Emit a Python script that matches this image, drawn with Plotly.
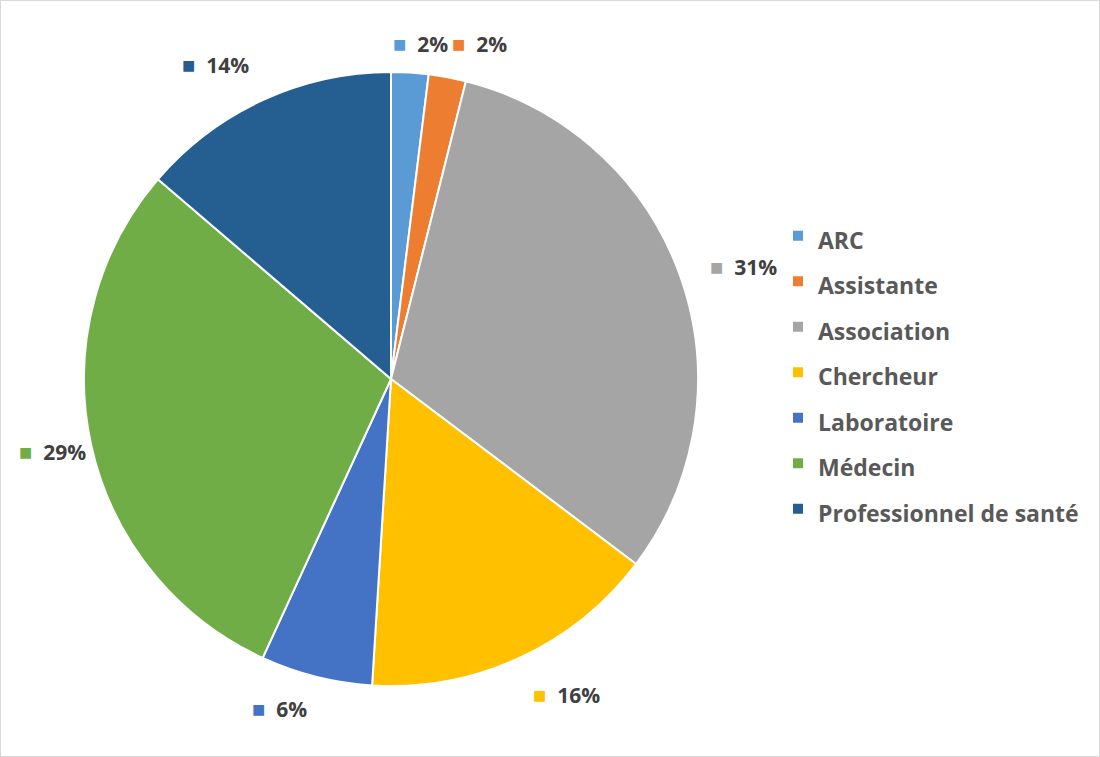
import math
import plotly.graph_objects as go

categories = ["ARC", "Assistante", "Association", "Chercheur", "Laboratoire", "Médecin", "Professionnel de santé"]
counts = [1, 1, 16, 8, 3, 15, 7]
colors = ["#5B9BD5", "#ED7D31", "#A5A5A5", "#FFC000", "#4472C4", "#70AD47", "#255E91"]

W, H = 1100, 757
cx, cy, r = 391, 379, 307
FONT = "Open Sans"

total = sum(counts)
pct = [round(100 * c / total) for c in counts]

fig = go.Figure(go.Pie(
    labels=[f"<span style='font-size:23px'>{c}</span>" for c in categories],
    values=counts,
    marker=dict(colors=colors, line=dict(color="white", width=2)),
    sort=False,
    direction="clockwise",
    rotation=0,
    textinfo="none",
    hoverinfo="label+percent",
    domain=dict(x=[(cx - r) / W, (cx + r) / W], y=[(H - cy - r) / H, (H - cy + r) / H]),
))

# outside-end data labels, positioned from each slice's mid-angle
def clip(v, lo, hi):
    return max(lo, min(hi, v))

annotations = []
cum = 0
gap = 29
for c, p, col in zip(counts, pct, colors):
    mid = (cum + c / 2) / total * 2 * math.pi
    cum += c
    sx, sy = math.sin(mid), -math.cos(mid)
    nd = len(str(p))
    w = 28 + 12 * nd + 18.5
    h = 20
    px, py = cx + (r + gap) * sx, cy + (r + gap) * sy
    fx = clip(abs(sx) / 0.2, 0, 1) * (1 if sx >= 0 else -1)
    fy = clip((abs(sy) - 0.3) / 0.2, 0, 1) * (1 if sy >= 0 else -1)
    bx = px + fx * w / 2
    by = py + fy * h / 2
    bx = clip(bx, 17 + w / 2, W - 17 - w / 2)
    by = clip(by, 33 + h / 2, H - 39 - h / 2)
    annotations.append(dict(
        x=bx / W, y=1 - by / H, xref="paper", yref="paper",
        xanchor="center", yanchor="middle", showarrow=False,
        text=f"<span style='color:{col};font-size:22px'>■</span>\u00a0 {p}%",
        font=dict(family=FONT, size=21, color="#404040", weight="bold"),
    ))

fig.update_layout(
    width=W, height=H,
    margin=dict(l=0, r=0, t=0, b=0),
    paper_bgcolor="white",
    showlegend=True,
    legend=dict(
        x=(818 - 40) / W, y=0.5 + 6 / H, xanchor="left", yanchor="middle",
        font=dict(family=FONT, size=32.7, color="#595959", weight="bold"),
        itemwidth=30,
    ),
    annotations=annotations,
    shapes=[dict(type="rect", xref="paper", yref="paper", x0=0, y0=0, x1=1, y1=1,
                 line=dict(color="#D9D9D9", width=2))],
)

fig.write_html("out.html", config={"displayModeBar": False},
               post_script="document.body.style.margin='0';")
